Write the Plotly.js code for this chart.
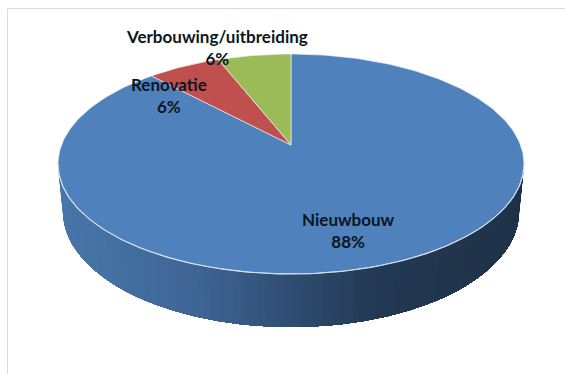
<!DOCTYPE html>
<html>
<head>
<meta charset="utf-8">
<script src="https://cdn.plot.ly/plotly-3.0.1.min.js"></script>
<style>html,body{margin:0;padding:0;background:#fff}#chart{width:565px;height:374px}</style>
</head>
<body>
<div id="chart"></div>
<script>
// Building types and their shares, in clockwise order from twelve o'clock
const categories = ['Nieuwbouw', 'Renovatie', 'Verbouwing/uitbreiding'];
const shares = [88, 6, 6];
const sliceColors = ['#4F81BD', '#C0504D', '#9BBB59'];
const labelAnchors = [[348, 230], [169, 95], [217, 47]];

// Perspective disc: apex, radii and tilt of the top face and of the base
const top_ = {cx: 291, cy: 145, a: 229.5, b: 106.7};
const base = {cx: 291, cy: 191.6, a: 224.6, b: 112};
const tilt = 0.1727;

function project(face, angle) {
  const u = Math.sin(angle), v = Math.cos(angle), w = 1 + tilt * v;
  return [face.cx + face.a * u / w, face.cy - face.b * v / w];
}
function arc(face, from, to, steps) {
  const pts = [];
  for (let i = 0; i <= steps; i++) pts.push(project(face, from + (to - from) * i / steps));
  return pts;
}

const traces = [];

// Side wall, painted from the left rim (largest angle) to the right rim; each band
// runs on to the silhouette so the next one covers it and no seams show
const wallStops = [[60, [72, 118, 170]], [200, [62, 100, 148]], [290, [46, 76, 113]], [380, [35, 56, 82]], [525, [31, 50, 73]]];
function wallColor(x) {
  for (let i = 1; i < wallStops.length; i++) {
    if (x <= wallStops[i][0]) {
      const [x0, c0] = wallStops[i - 1], [x1, c1] = wallStops[i];
      const t = Math.max(0, (x - x0) / (x1 - x0));
      return 'rgb(' + c0.map((c, k) => Math.round(c + (c1[k] - c) * t)).join(',') + ')';
    }
  }
  return 'rgb(' + wallStops[wallStops.length - 1][1].join(',') + ')';
}
const silhouette = Math.acos(-tilt);
const rightEnd = silhouette, leftEnd = 2 * Math.PI - silhouette;
const bandCount = 120;
for (let i = 0; i < bandCount; i++) {
  const from = leftEnd - (leftEnd - rightEnd) * i / bandCount;
  const topRim = arc(top_, from, rightEnd, bandCount - i);
  const baseRim = arc(base, rightEnd, from, bandCount - i);
  const pts = topRim.concat(baseRim);
  traces.push({
    type: 'scatter', mode: 'none', fill: 'toself',
    fillcolor: wallColor(project(top_, from)[0] + 1),
    x: pts.map(p => p[0]), y: pts.map(p => p[1]),
    hoverinfo: 'skip', showlegend: false
  });
}

// Top face: one wedge per category, sized by its share
const total = shares.reduce((s, v) => s + v, 0);
let start = 0;
categories.forEach((name, i) => {
  const sweep = shares[i] / total * 2 * Math.PI;
  const rim = arc(top_, start, start + sweep, Math.ceil(shares[i] * 3));
  const pts = [[top_.cx, top_.cy], ...rim, [top_.cx, top_.cy]];
  traces.push({
    type: 'scatter', mode: 'lines', fill: 'toself', fillcolor: sliceColors[i],
    x: pts.map(p => p[0]), y: pts.map(p => p[1]),
    line: {color: 'rgba(235,240,245,0.85)', width: 0.8}, name: name, showlegend: false,
    hoverinfo: 'text', text: name + ' ' + shares[i] + '%'
  });
  start += sweep;
});

// Pale highlight along the front edge of the top face
const edge = arc(top_, silhouette, 2 * Math.PI - silhouette, 200);
traces.push({
  type: 'scatter', mode: 'lines', x: edge.map(p => p[0]), y: edge.map(p => p[1]),
  line: {color: '#d5dee9', width: 1.1}, hoverinfo: 'skip', showlegend: false
});

const annotations = categories.map((name, i) => ({
  x: labelAnchors[i][0], y: labelAnchors[i][1], xref: 'x', yref: 'y', showarrow: false,
  text: '<b>' + name + '</b><br><b>' + shares[i] + '%</b>',
  font: {family: 'Lato, "Open Sans", sans-serif', size: 17, color: '#0d1620'},
  align: 'center', xanchor: 'center', yanchor: 'middle'
}));

const layout = {
  width: 565, height: 374, margin: {l: 0, r: 0, t: 0, b: 0},
  paper_bgcolor: '#fff', plot_bgcolor: '#fff', showlegend: false,
  xaxis: {range: [0, 565], visible: false, fixedrange: true},
  yaxis: {range: [374, 0], visible: false, fixedrange: true},
  annotations,
  shapes: [
    {type: 'line', xref: 'x', yref: 'y', x0: 7.5, y0: 8.5, x1: 565, y1: 8.5, line: {color: '#dcdcdc', width: 1}},
    {type: 'line', xref: 'x', yref: 'y', x0: 7.5, y0: 8.5, x1: 7.5, y1: 374, line: {color: '#dcdcdc', width: 1}}
  ]
};
Plotly.newPlot('chart', traces, layout, {displayModeBar: false, staticPlot: true});
</script>
</body>
</html>
